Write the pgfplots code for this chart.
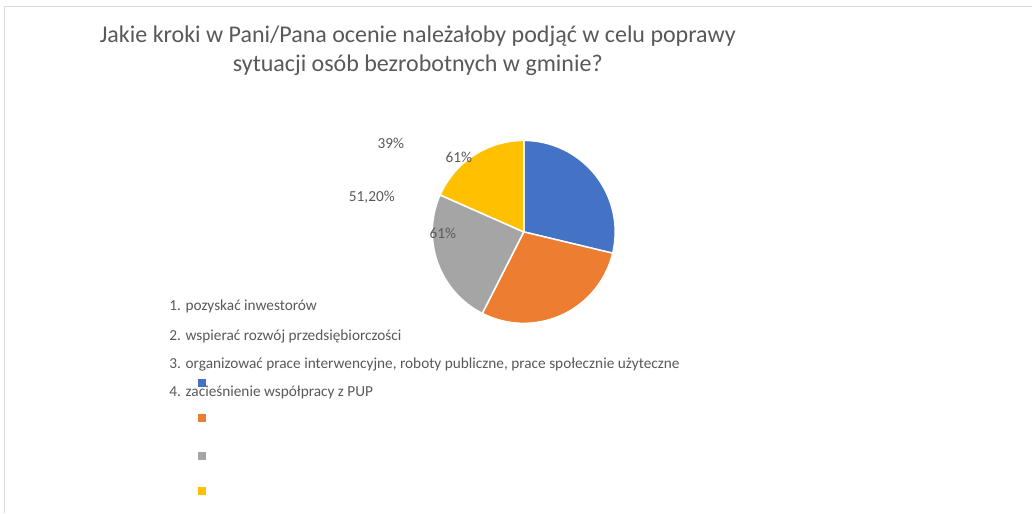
\documentclass[border=0pt]{standalone}
\usepackage{fontspec}
\setmainfont{Carlito}
\usepackage{pgfplots}
\usepackage{pgfplotstable}
\pgfplotsset{compat=1.18}
\definecolor{slice0}{HTML}{4472C4}
\definecolor{slice1}{HTML}{ED7D31}
\definecolor{slice2}{HTML}{A5A5A5}
\definecolor{slice3}{HTML}{FFC000}
\definecolor{txtgray}{HTML}{595959}
\definecolor{framegray}{HTML}{D9D9D9}

% shares of answers (percent), clockwise from 12 o'clock
\pgfplotstableread{
idx value
1 61
2 61
3 51.2
4 39
}\piedata

\begin{document}
\begin{tikzpicture}
\pgfmathsetmacro\total{0}
\pgfplotsforeachungrouped \i in {0,...,3}{%
  \pgfplotstablegetelem{\i}{value}\of\piedata
  \pgfmathsetmacro\total{\total+\pgfplotsretval}%
}
\begin{axis}[
  x=1pt, y=1pt, y dir=reverse,
  xmin=0, xmax=1032, ymin=0, ymax=513,
  scale only axis, hide axis, clip=false,
]
  \fill[white] (axis cs:0,0) rectangle (axis cs:1032,513);
  \draw[framegray, line width=1pt] (axis cs:5,513) -- (axis cs:5,7) -- (axis cs:1032,7);

  \pgfmathsetmacro\cum{0}
  \pgfplotsforeachungrouped \i in {0,...,3}{%
    \pgfplotstablegetelem{\i}{value}\of\piedata
    \pgfmathsetmacro\sa{90-360*(\cum/\total)}%
    \pgfmathsetmacro\cum{\cum+\pgfplotsretval}%
    \pgfmathsetmacro\ea{90-360*(\cum/\total)}%
    \pgfmathsetmacro\px{524+91.5*cos(\sa)}%
    \pgfmathsetmacro\py{232-91.5*sin(\sa)}%
    \edef\temp{\noexpand\filldraw[fill=slice\i, draw=white, line width=1.5pt, line join=round]
      (axis cs:524,232) -- (axis cs:\px,\py) arc[start angle=\sa, end angle=\ea, radius=91.5pt] -- cycle;}%
    \temp
  }

  \node[text=txtgray, align=center, font=\fontsize{24}{29}\selectfont]
    at (axis cs:418,51) {Jakie kroki w Pani/Pana ocenie należałoby podjąć w celu poprawy\\sytuacji osób bezrobotnych w gminie?};

  \begin{scope}[every node/.style={text=txtgray, font=\fontsize{15.3}{18}\selectfont}]
    \node at (axis cs:391,143) {39\%};
    \node at (axis cs:459,157) {61\%};
    \node at (axis cs:372,197) {51,20\%};
    \node at (axis cs:443,233) {61\%};
    \node[anchor=west] at (axis cs:166,307) {1. pozyskać inwestorów};
    \node[anchor=west] at (axis cs:166,337) {2. wspierać rozwój przedsiębiorczości};
    \node[anchor=west] at (axis cs:166,365) {3. organizować prace interwencyjne, roboty publiczne, prace społecznie użyteczne};
    \node[anchor=west] at (axis cs:166,393) {4. zacieśnienie współpracy z PUP};
  \end{scope}

  \fill[slice0] (axis cs:198,379) rectangle (axis cs:206,387);
  \fill[slice1] (axis cs:198,414) rectangle (axis cs:206,422);
  \fill[slice2] (axis cs:198,452) rectangle (axis cs:206,460);
  \fill[slice3] (axis cs:198,487) rectangle (axis cs:206,495);
\end{axis}
\end{tikzpicture}
\end{document}
